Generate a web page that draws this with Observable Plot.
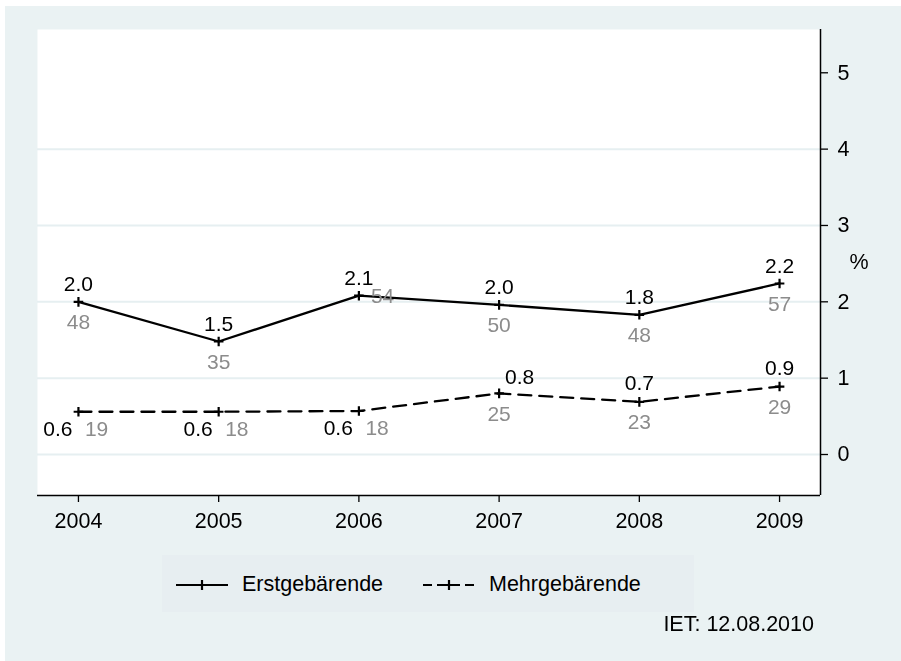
<!DOCTYPE html>
<html>
<head>
<meta charset="utf-8">
<script src="https://cdn.jsdelivr.net/npm/d3@7"></script>
<script src="https://cdn.jsdelivr.net/npm/@observablehq/plot@0.6"></script>
<style>
  html, body { margin: 0; padding: 0; overflow: hidden; background: white; font-family: "Liberation Sans", Arial, sans-serif; }
  #graph { position: fixed; left: 5px; top: 6px; right: -10px; bottom: -10px; background: #eaf2f3; }
  #chart { position: absolute; left: 0; top: 0; }
  #legend { position: absolute; left: 162px; top: 555px; width: 532px; height: 57px; background: #e7eef1; }
  .txt { position: absolute; font-size: 21.5px; line-height: 21.5px; color: black; white-space: nowrap; }
  .key { position: absolute; }
</style>
</head>
<body>
<div id="graph"></div>
<div id="chart"></div>
<div id="legend"></div>
<div class="txt" id="caption" style="right: 87px; top: 614px;"></div>
<script>
// values
const years = [2004, 2005, 2006, 2007, 2008, 2009];
const erstRate = [2.0, 1.48, 2.08, 1.96, 1.83, 2.24];
const erstCount = [48, 35, 54, 50, 48, 57];
const mehrRate = [0.56, 0.56, 0.57, 0.8, 0.69, 0.89];
const mehrCount = [19, 18, 18, 25, 23, 29];
const yTicks = [0, 1, 2, 3, 4, 5];
const gridTicks = [0, 1, 2, 3, 4];
const seriesNames = ["Erstgebärende", "Mehrgebärende"];
const captionText = "IET: 12.08.2010";

const xDomain = [2003.708, 2009.292];
const yDomain = [-0.537, 5.567];
const grey = "#8c8c8c";

const erst = years.map((year, i) => ({ year, rate: erstRate[i], n: erstCount[i] }));
const mehr = years.map((year, i) => ({ year, rate: mehrRate[i], n: mehrCount[i] }));

const fmt = (d) => d.rate.toFixed(1);
const lbl = { x: "year", y: "rate", fontSize: 21 };

const chart = Plot.plot({
  width: 901,
  height: 545,
  marginLeft: 37,
  marginTop: 29,
  marginRight: 81,
  marginBottom: 50,
  style: { background: "transparent", color: "black", fontFamily: "Liberation Sans, Arial, sans-serif", fontSize: "21.5px" },
  x: { domain: xDomain },
  y: { domain: yDomain },
  marks: [
    Plot.frame({ fill: "white", stroke: "none" }),
    Plot.gridY(gridTicks, { stroke: "#e6eff1", strokeOpacity: 1, strokeWidth: 2 }),
    Plot.ruleY([yDomain[0]], { stroke: "black", strokeWidth: 1.5 }),
    Plot.ruleX([xDomain[1]], { stroke: "black", strokeWidth: 1.5 }),
    Plot.axisX(years, { anchor: "bottom", tickSize: 7, tickPadding: 10, tickFormat: (d) => String(d), fontSize: 21.5, label: null, strokeWidth: 1.3 }),
    Plot.axisY(yTicks, { anchor: "right", tickSize: 7, tickPadding: 10, tickFormat: (d) => String(d), fontSize: 21.5, label: null, strokeWidth: 1.3 }),
    Plot.text(["%"], { frameAnchor: "right", dx: 48, fontSize: 21.5 }),
    // lines and markers
    Plot.line(erst, { x: "year", y: "rate", stroke: "black", strokeWidth: 2.3 }),
    Plot.line(mehr, { x: "year", y: "rate", stroke: "black", strokeWidth: 2.3, strokeDasharray: "13,8" }),
    Plot.dot(erst, { x: "year", y: "rate", symbol: "plus", r: 3.2, stroke: "black", strokeWidth: 2.2 }),
    Plot.dot(mehr, { x: "year", y: "rate", symbol: "plus", r: 3.2, stroke: "black", strokeWidth: 2.2 }),
    // Erstgebärende labels
    Plot.text(erst, { ...lbl, text: fmt, dy: -17.5, fill: "black" }),
    Plot.text(erst.filter((d) => d.year != 2006), { ...lbl, text: "n", dy: 20.5, fill: grey }),
    Plot.text(erst.filter((d) => d.year == 2006), { ...lbl, text: "n", dx: 12, dy: 1, textAnchor: "start", fill: grey }),
    // Mehrgebärende labels
    Plot.text(mehr.filter((d) => d.year <= 2006), { ...lbl, text: fmt, dx: -6, dy: 17.5, textAnchor: "end", fill: "black" }),
    Plot.text(mehr.filter((d) => d.year <= 2006), { ...lbl, text: "n", dx: 6.5, dy: 17.5, textAnchor: "start", fill: grey }),
    Plot.text(mehr.filter((d) => d.year == 2007), { ...lbl, text: fmt, dx: 6, dy: -16, textAnchor: "start", fill: "black" }),
    Plot.text(mehr.filter((d) => d.year > 2007), { ...lbl, text: fmt, dy: -18.5, fill: "black" }),
    Plot.text(mehr.filter((d) => d.year > 2006), { ...lbl, text: "n", dy: 20.5, fill: grey }),
  ],
});
document.getElementById("chart").appendChild(chart);

// legend
const legend = document.getElementById("legend");
const keys = [
  { name: seriesNames[0], left: 14, textLeft: 80, dash: null },
  { name: seriesNames[1], left: 261, textLeft: 327, dash: "9,5" },
];
keys.forEach((k) => {
  const svg = d3.create("svg").attr("class", "key").attr("width", 52).attr("height", 20)
    .style("left", k.left + "px").style("top", "20px");
  svg.append("line").attr("x1", 0).attr("x2", 52).attr("y1", 10).attr("y2", 10)
    .attr("stroke", "black").attr("stroke-width", 2.2)
    .attr("stroke-dasharray", k.dash);
  svg.append("path").attr("d", "M21,10H31M26,5V15").attr("stroke", "black").attr("stroke-width", 2.2);
  legend.appendChild(svg.node());
  const t = document.createElement("div");
  t.className = "txt";
  t.style.left = k.textLeft + "px";
  t.style.top = "19px";
  t.textContent = k.name;
  legend.appendChild(t);
});

document.getElementById("caption").textContent = captionText;
</script>
</body>
</html>
